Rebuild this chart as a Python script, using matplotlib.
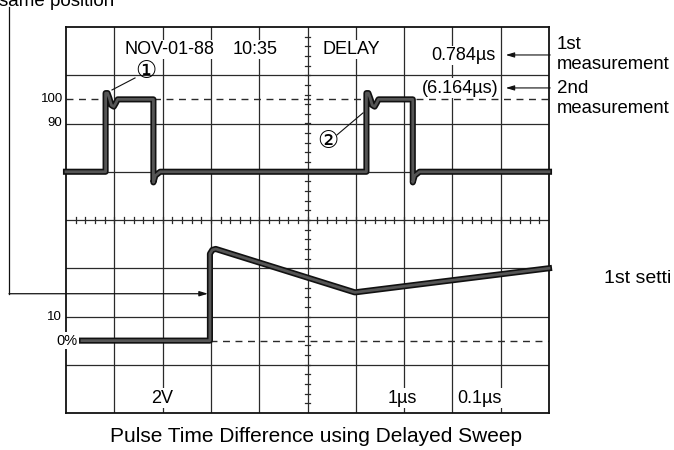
import matplotlib
matplotlib.use('Agg')
import matplotlib.pyplot as plt
import matplotlib.patheffects as pe
import numpy as np

plt.rcParams['font.family'] = ['Liberation Sans', 'DejaVu Sans', 'Noto Sans CJK JP']

# upper trace (divisions): two pulses, 0% at 5 div, 100% at 6.5 div
upper_x = [0.0, 0.82, 0.82, 0.86, 0.90, 0.94, 0.99, 1.03, 1.07, 1.81, 1.81, 1.85, 1.95,
           6.22, 6.22, 6.26, 6.30, 6.34, 6.39, 6.43, 6.47, 7.18, 7.18, 7.22, 7.32, 10.0]
upper_y = [5.0, 5.0, 6.63, 6.63, 6.52, 6.38, 6.35, 6.42, 6.50, 6.50, 4.78, 4.92, 5.0,
           5.0, 6.63, 6.63, 6.52, 6.38, 6.35, 6.42, 6.50, 6.50, 4.78, 4.92, 5.0, 5.0]

# lower trace: delayed sweep ramp
lower_x = [0.33, 2.98, 2.98, 3.03, 3.10, 5.98, 10.0]
lower_y = [1.5, 1.5, 3.30, 3.38, 3.40, 2.50, 3.00]

lvl_100 = 6.5
lvl_0 = 1.5

W, H = 674, 450
L, T, R, B = 66, 27, 549, 413
DIV = (R - L) / 10.0


def px(x, y):
    # pixel position -> graticule divisions
    return (x - L) / DIV, 8 - (y - T) / DIV


fig = plt.figure(figsize=(W / 100, H / 100), dpi=100)
ax = fig.add_axes([L / W, (H - B) / H, (R - L) / W, (B - T) / H])
ax.set_xlim(0, 10)
ax.set_ylim(0, 8)
ax.set_xticks([])
ax.set_yticks([])
for s in ax.spines.values():
    s.set_linewidth(1.3)
    s.set_color('#111')

gc = '#2a2a2a'
for i in range(1, 10):
    ax.axvline(i, color=gc, lw=0.9, zorder=1)
for j in range(1, 8):
    ax.axhline(j, color=gc, lw=0.9, zorder=1)

# centre line minor ticks
for t in np.arange(0.2, 10, 0.2):
    ax.plot([t, t], [3.94, 4.06], color=gc, lw=0.9, zorder=1)
for t in np.arange(0.2, 8, 0.2):
    ax.plot([4.94, 5.06], [t, t], color=gc, lw=0.9, zorder=1)

ax.axhline(lvl_100, color=gc, lw=1.0, ls=(0, (5, 4)), zorder=1)
ax.hlines(lvl_0, lower_x[1], 10, color=gc, lw=1.0, ls=(0, (5, 4)), zorder=1)

eff = [pe.Stroke(linewidth=4.4, foreground='#111'), pe.Normal()]
ax.plot(upper_x, upper_y, color='#555', lw=2.0, solid_joinstyle='round',
        path_effects=eff, zorder=3, clip_on=False)
ax.plot(lower_x, lower_y, color='#555', lw=2.0, solid_joinstyle='round',
        path_effects=eff, zorder=3, clip_on=False)

wb = dict(facecolor='white', edgecolor='none', pad=1.0)


def txt(x, y, s, size, ha='left', va='baseline', box=True, **kw):
    xd, yd = px(x, y)
    ax.text(xd, yd, s, fontsize=size, ha=ha, va=va, clip_on=False, zorder=4,
            bbox=wb if box else None, **kw)


# screen readouts
txt(124, 54, 'NOV-01-88', 13)
txt(233, 54, '10:35', 13)
txt(323, 54, 'DELAY', 13)
txt(495, 60, '0.784µs', 13, ha='right')
txt(498, 93, '(6.164µs)', 13, ha='right')
txt(162.5, 403, '2V', 13, ha='center')
txt(402, 403, '1µs', 13, ha='center')
txt(479, 403, '0.1µs', 13, ha='center')

# level labels
txt(63, 99, '100', 9.5, ha='right', va='center', box=False)
txt(62, 123, '90', 9.5, ha='right', va='center', box=False)
txt(62, 317, '10', 9.5, ha='right', va='center', box=False)
txt(66.5, 341, '0%', 10.5, ha='center', va='center')

# circled markers
txt(146, 72, '①', 17, ha='center', va='center', box=False)
txt(328, 142, '②', 17, ha='center', va='center', box=False)
for a, b in [((135, 78), (112, 90)), ((337, 135), (363, 113))]:
    p0, p1 = px(*a), px(*b)
    ax.plot([p0[0], p1[0]], [p0[1], p1[1]], color='#111', lw=0.8, clip_on=False, zorder=4)

# right side notes
txt(557, 49, '1st', 13.5, box=False)
txt(557, 69, 'measurement', 13.3, box=False)
txt(557, 93, '2nd', 13.5, box=False)
txt(557, 113, 'measurement', 13.3, box=False)
txt(604, 283, '1st setti', 14, box=False)
for yy in [55, 88]:
    ax.annotate('', xy=px(503, yy), xytext=px(553, yy), annotation_clip=False,
                arrowprops=dict(arrowstyle='-|>,head_length=0.5,head_width=0.15',
                                color='#111', lw=0.8))

# left bracket
txt(-1, 6, 'same position', 13.5, box=False)
b0, b1 = px(9, 7), px(9, 294)
ax.plot([b0[0], b1[0]], [b0[1], b1[1]], color='#111', lw=0.9, clip_on=False)
ax.annotate('', xy=px(208, 294), xytext=px(9, 294), annotation_clip=False,
            arrowprops=dict(arrowstyle='-|>,head_length=0.5,head_width=0.15',
                            color='#111', lw=0.9, shrinkA=0, shrinkB=0))

fig.text(316.5 / W, 1 - 442 / H, 'Pulse Time Difference using Delayed Sweep',
         fontsize=15, ha='center', va='baseline')

fig.savefig('out.png', dpi=100)
